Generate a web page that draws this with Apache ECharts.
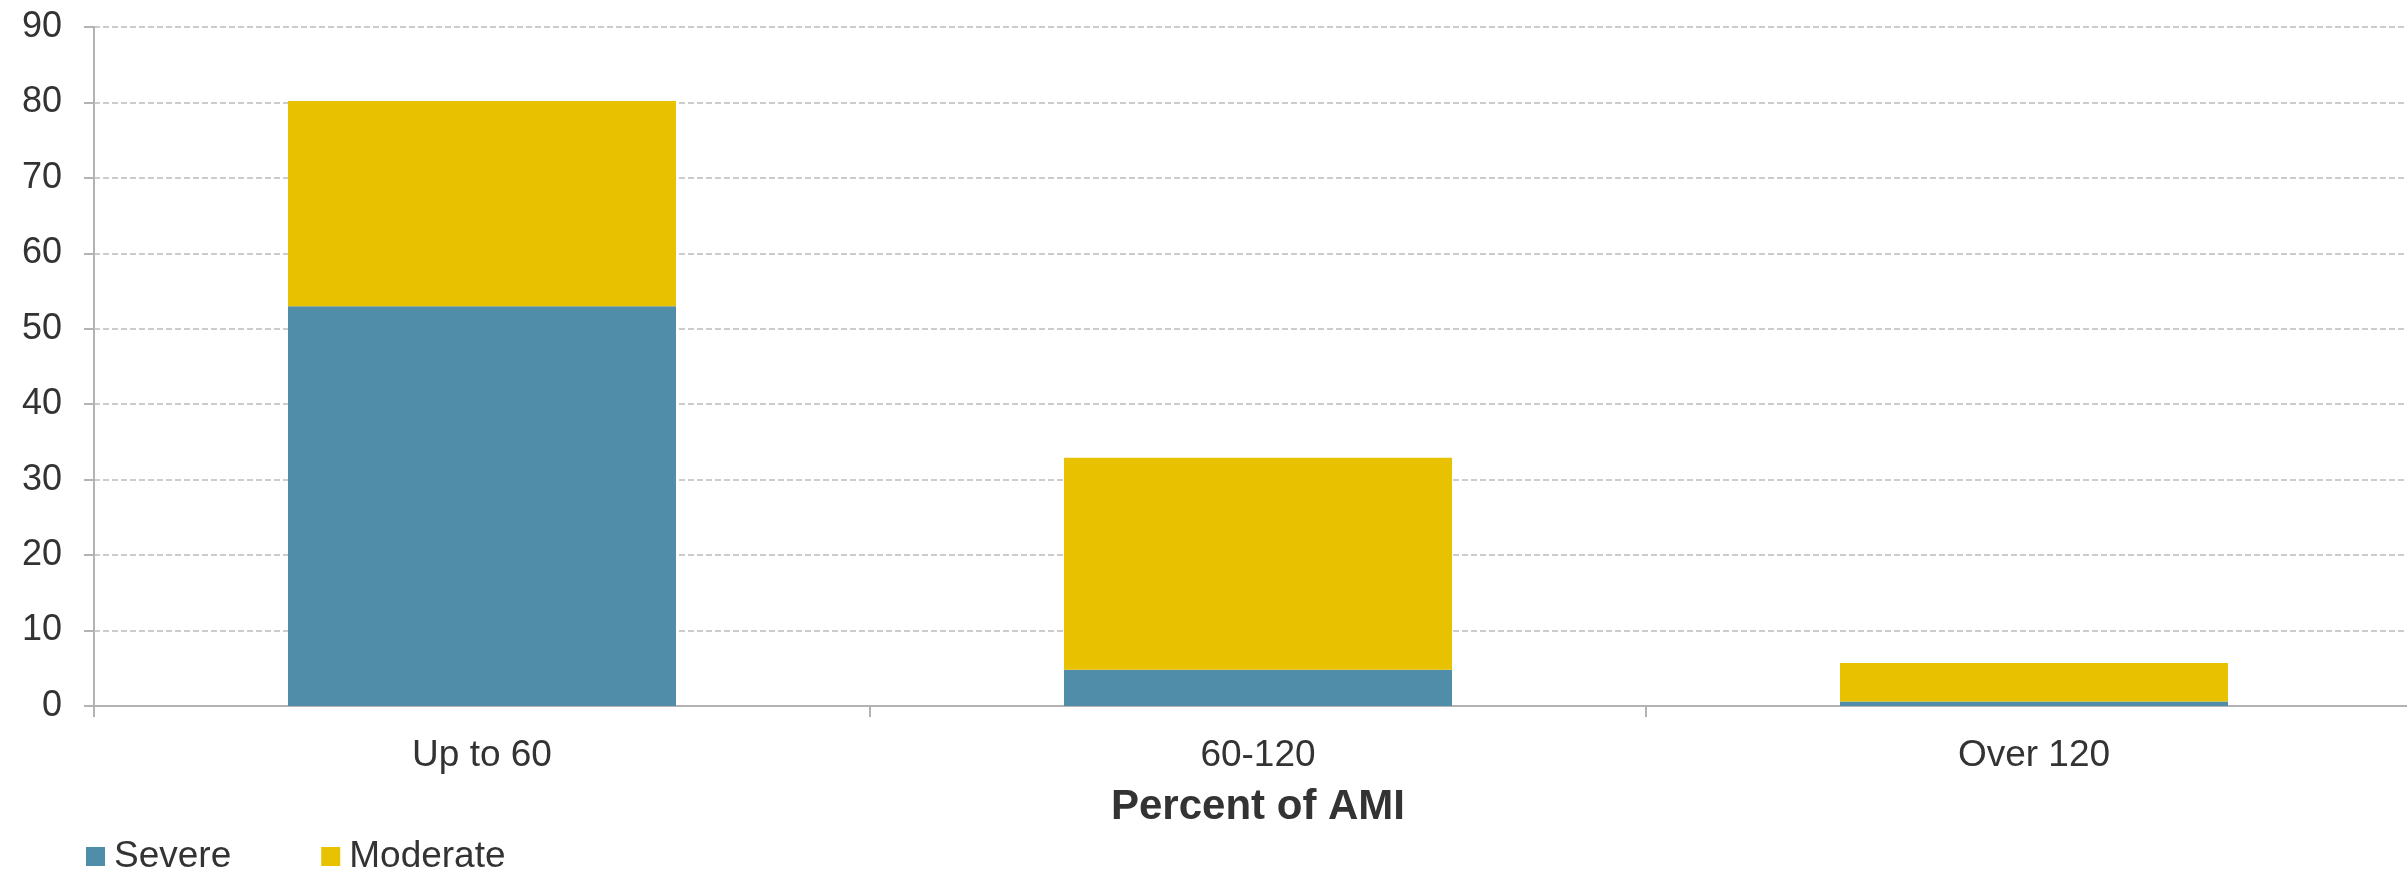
<!DOCTYPE html>
<html>
<head>
<meta charset="utf-8">
<title>Housing cost burden by Percent of AMI</title>
<script src="https://cdn.jsdelivr.net/npm/echarts@6/dist/echarts.min.js"></script>
<style>
  html, body { margin: 0; padding: 0; background: #ffffff; overflow: hidden; }
  /* canvas is a little wider than the window so the plot runs off the right edge */
  #chart { width: 2422px; height: 870px; }
</style>
</head>
<body>
<div id="chart"></div>
<script>
// Income bands (percent of area median income)
const categories = ['Up to 60', '60-120', 'Over 120'];
// Severe burden share per band
const severeValues = [53.0, 4.8, 0.6];
// Moderate burden share per band (stacked on top of severe)
const moderateValues = [27.2, 28.1, 5.1];
// Value axis range
const yMin = 0;
const yMax = 90;
const yStep = 10;

const textColor = '#333333';
const axisColor = '#b3b3b3';
const gridColor = '#cccccc';
const fontFamily = '"Liberation Sans", Arial, Helvetica, sans-serif';

const chart = echarts.init(document.getElementById('chart'), null, { renderer: 'canvas' });

chart.setOption({
  backgroundColor: '#ffffff',
  animation: false,
  textStyle: { fontFamily: fontFamily, color: textColor },
  grid: { left: 94, top: 27, right: 0, bottom: 164, containLabel: false },
  legend: {
    left: 86,
    top: 838,
    padding: 0,
    itemWidth: 19,
    itemHeight: 19,
    itemGap: 90,
    icon: 'rect',
    textStyle: { fontFamily: fontFamily, fontSize: 37, color: textColor, padding: [0, 0, 0, 4] },
    data: ['Severe', 'Moderate']
  },
  xAxis: {
    type: 'category',
    data: categories,
    name: 'Percent of AMI',
    nameLocation: 'middle',
    nameGap: 80,
    nameTextStyle: { fontFamily: fontFamily, fontSize: 42, fontWeight: 'bold', color: textColor },
    axisLine: { lineStyle: { color: axisColor, width: 2 } },
    axisTick: { show: true, length: 11, lineStyle: { color: axisColor, width: 2 } },
    axisLabel: { fontFamily: fontFamily, fontSize: 37, color: textColor, margin: 31 },
    splitLine: { show: false }
  },
  yAxis: {
    type: 'value',
    min: yMin,
    max: yMax,
    interval: yStep,
    axisLine: { show: true, lineStyle: { color: axisColor, width: 2 } },
    axisTick: { show: true, length: 10, lineStyle: { color: axisColor, width: 2 } },
    axisLabel: { fontFamily: fontFamily, fontSize: 36, color: textColor, margin: 32 },
    splitLine: { show: true, lineStyle: { color: gridColor, width: 2, type: [6, 3] } }
  },
  series: [
    {
      name: 'Severe',
      type: 'bar',
      stack: 'burden',
      barWidth: '50%',
      itemStyle: { color: '#508da8' },
      data: severeValues
    },
    {
      name: 'Moderate',
      type: 'bar',
      stack: 'burden',
      barWidth: '50%',
      itemStyle: { color: '#e8c200' },
      data: moderateValues
    }
  ]
});
</script>
</body>
</html>
